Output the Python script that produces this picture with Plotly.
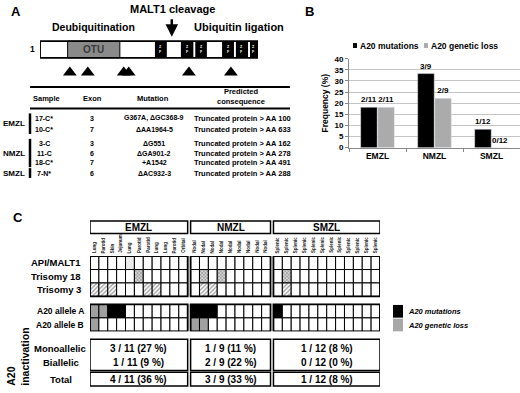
import plotly.graph_objects as go

W, H = 520, 393
def px(x): return x / W
def py(y): return 1 - y / H

FONT = "Liberation Sans"

# ---------------- Panel A data ----------------
prot_len = 790
otu_domain = (101, 290)
zf_domains = [(417, 460), (511, 556), (563, 605), (660, 703), (710, 754), (761, 790)]
mut_sites = [109, 174, 304, 322, 540, 692]
malt1_site = 478

tab_groups = ["EMZL", "EMZL", "NMZL", "NMZL", "NMZL", "SMZL"]
tab_samples = ["17-C*", "10-C*", "3-C", "11-C", "18-C*", "7-N*"]
tab_exons = ["3", "7", "3", "6", "7", "6"]
tab_mutations = ["G367A, \u0394GC368-9", "\u0394AA1964-5", "\u0394G551", "\u0394GA901-2", "+A1542", "\u0394AC932-3"]
tab_conseq = ["Truncated protein > AA 100", "Truncated protein > AA 633", "Truncated protein > AA 162",
              "Truncated protein > AA 278", "Truncated protein > AA 491", "Truncated protein > AA 288"]

# ---------------- Panel B data ----------------
subtypes = ["EMZL", "NMZL", "SMZL"]
mut_pct = [18.2, 33.3, 8.3]
loss_pct = [18.2, 22.2, 0.0]
mut_lbl = ["2/11", "3/9", "1/12"]
loss_lbl = ["2/11", "2/9", "0/12"]

# ---------------- Panel C data ----------------
group_sizes = [11, 9, 12]
sites = (["Lung", "Parotid", "Skin", "Jejunum", "Lung", "Parotid", "Parotid", "Lung", "Lung", "Parotid", "Orbital"]
         + ["Nodal"] * 9 + ["Splenic"] * 12)
row_names = ["API/MALT1", "Trisomy 18", "Trisomy 3", "A20 allele A", "A20 allele B"]
# '-' none, 'f' faint, 'x' trisomy 18, '/' trisomy 3, 'M' mutation, 'L' genetic loss
row_api = list("----f------") + list("---------") + list("------------")
row_t18 = list("-----x-----") + list("-x-x-----") + list("-x----------")
row_t3 = list("///---//---") + list("-//------") + list("-/----------")
row_aA = list("LLMM-------") + list("MMM------") + list("M-----------")
row_aB = list("L----------") + list("LL-------") + list("------------")
mono = [3, 1, 1]
bi = [1, 2, 0]
total = [4, 3, 1]

fig = go.Figure()

# ======== Panel B bar chart ========
fig.add_trace(go.Bar(x=subtypes, y=mut_pct, name="A20 mutations", marker_color="black",
                     text=mut_lbl, textposition="outside", cliponaxis=False,
                     textfont=dict(family=FONT, size=8, color="black", weight="bold"),
                     xaxis="x", yaxis="y", showlegend=False))
fig.add_trace(go.Bar(x=subtypes, y=loss_pct, name="A20 genetic loss", marker_color="#ababab",
                     text=loss_lbl, textposition="outside", cliponaxis=False,
                     textfont=dict(family=FONT, size=8, color="black", weight="bold"),
                     xaxis="x", yaxis="y", showlegend=False))

# ======== Panel C grid (one bar per cell) ========
gap = 0.33
offsets = []
o = 0.0
for s in group_sizes:
    offsets.append(o)
    o += s + gap
x_total = o - gap
col_x = []
for g, s in enumerate(group_sizes):
    for i in range(s):
        col_x.append(offsets[g] + i + 0.5)

row_gap = 0.6
rows = [row_api, row_t18, row_t3, row_aA, row_aB]
row_base = [r + (row_gap if r >= 3 else 0) for r in range(len(rows))]
y_total = len(rows) + row_gap

cx, cb, ccol, cshape, csize, csol = [], [], [], [], [], []
colmap = {"-": "white", "f": "#ececec", "x": "white", "/": "white", "M": "black", "L": "#a0a0a0"}
shapemap = {"-": "", "f": "", "x": "x", "/": "/", "M": "", "L": ""}
for r, row in enumerate(rows):
    for c, v in enumerate(row):
        cx.append(col_x[c])
        cb.append(row_base[r])
        ccol.append(colmap[v])
        cshape.append(shapemap[v])
        csize.append(2.4 if v == "x" else 3.0)
        csol.append(0.7 if v == "x" else 0.45)
fig.add_trace(go.Bar(x=cx, y=[1] * len(cx), base=cb, width=1, offset=-0.5,
                     marker=dict(color=ccol, line=dict(color="black", width=1),
                                 pattern=dict(shape=cshape, fgcolor="#333", fillmode="overlay",
                                              size=csize, solidity=csol)),
                     xaxis="x2", yaxis="y2", showlegend=False, hoverinfo="skip"))

# ======== Panel A triangles ========
fig.add_trace(go.Scatter(x=mut_sites, y=[0.2] * len(mut_sites), mode="markers",
                         marker=dict(symbol="triangle-up", size=12, color="black"),
                         xaxis="x3", yaxis="y3", showlegend=False, hoverinfo="skip"))

shapes = []
ann = []

def text(x, y, t, size=8, xanchor="center", yanchor="middle", italic=False, bold=True, color="black",
         xref="paper", yref="paper", angle=0, align="center"):
    ann.append(dict(x=x, y=y, xref=xref, yref=yref, text=t, showarrow=False, xanchor=xanchor,
                    yanchor=yanchor, textangle=angle, align=align,
                    font=dict(family=FONT, size=size, color=color, weight="bold" if bold else "normal",
                              style="italic" if italic else "normal")))

def rect(x0, y0, x1, y1, fill="rgba(0,0,0,0)", lw=1, lc="black", xref="paper", yref="paper"):
    shapes.append(dict(type="rect", x0=x0, y0=y0, x1=x1, y1=y1, xref=xref, yref=yref,
                       fillcolor=fill, line=dict(color=lc, width=lw), layer="above"))

def line(x0, y0, x1, y1, lw=1, lc="black", xref="paper", yref="paper"):
    shapes.append(dict(type="line", x0=x0, y0=y0, x1=x1, y1=y1, xref=xref, yref=yref,
                       line=dict(color=lc, width=lw), layer="above"))

# ---------- Panel A ----------
text(px(16), py(8), "A", size=13)
text(px(172), py(5), "MALT1 cleavage", size=11)
text(px(93), py(24), "Deubiquitination", size=10.5)
text(px(192), py(24), "Ubiquitin ligation", size=11, xanchor="left")
ann.append(dict(x=malt1_site, y=0.93, xref="x3", yref="y3", ax=malt1_site, ay=1.32, axref="x3", ayref="y3",
                text="", showarrow=True, arrowhead=2, arrowsize=1, arrowwidth=2.5, arrowcolor="black"))
text(px(32), py(46), "1", size=8.5)
text(prot_len + 12, 0.67, "790", size=8.5, xanchor="left", xref="x3", yref="y3")
rect(1, 0.5, prot_len, 0.84, fill="white", lw=1.5, xref="x3", yref="y3")
rect(otu_domain[0], 0.5, otu_domain[1], 0.84, fill="#8a8a8a", lw=1, xref="x3", yref="y3")
text((otu_domain[0] + otu_domain[1]) / 2, 0.67, "OTU", size=10, color="#3a3a3a", xref="x3", yref="y3")
for a, b in zf_domains:
    rect(a, 0.5, b, 0.84, fill="black", lw=0, xref="x3", yref="y3")
    text((a + b) / 2, 0.67, "Z<br>F", size=3.5, color="white", xref="x3", yref="y3")
rect(1, 0.5, prot_len, 0.84, lw=1.5, xref="x3", yref="y3")

# table
line(px(30), py(85), px(290), py(85), lw=2)
line(px(30), py(107), px(290), py(107), lw=2)
text(px(46), py(97), "Sample", size=7.5)
text(px(92), py(97), "Exon", size=7.5)
text(px(153), py(97), "Mutation", size=7.5)
text(px(241), py(95), "Predicted<br>consequence", size=7.5)
row_y = [117, 128, 143, 152.5, 162, 173]
for i in range(len(tab_samples)):
    text(px(44), py(row_y[i]), tab_samples[i], size=7)
    text(px(92), py(row_y[i]), tab_exons[i], size=7)
    text(px(154), py(row_y[i]), tab_mutations[i], size=7)
    text(px(192), py(row_y[i]), tab_conseq[i], size=7.5, xanchor="left")
grp_spans = {}
for i, g in enumerate(tab_groups):
    grp_spans.setdefault(g, []).append(row_y[i])
for g, ys in grp_spans.items():
    y0 = min(ys) - 5
    y1 = max(ys) + 5
    line(px(30), py(y0), px(30), py(y1), lw=2.5)
    text(px(27), py((min(ys) + max(ys)) / 2), g, size=8, xanchor="right")

# ---------- Panel B ----------
text(px(309), py(8), "B", size=13)
rect(px(353), py(40), px(357), py(45), fill="black", lw=0)
text(px(358), py(42.5), "A20 mutations", size=8.5, xanchor="left")
rect(px(424), py(40), px(428), py(45), fill="#ababab", lw=0)
text(px(429), py(42.5), "A20 genetic loss", size=8.5, xanchor="left")

# ---------- Panel C ----------
text(px(18), py(219), "C", size=13)
for g, s in enumerate(group_sizes):
    x0, x1 = offsets[g], offsets[g] + s
    rect(x0, py(222), x1, py(235), lw=1.5, xref="x2", yref="paper")
    text((x0 + x1) / 2, py(228.5), subtypes[g], size=10, xref="x2")
    rect(x0, 0, x1, 3, lw=1.8, xref="x2", yref="y2")
    rect(x0, 3 + row_gap, x1, 5 + row_gap, lw=1.8, xref="x2", yref="y2")
    # summary boxes
    rect(x0, py(343), x1, py(375), lw=1.5, xref="x2", yref="paper")
    rect(x0, py(377), x1, py(391), lw=1.5, xref="x2", yref="paper")
    n = group_sizes[g]
    text((x0 + x1) / 2, py(353), f"{mono[g]} / {n} ({round(100 * mono[g] / n)} %)", size=10, xref="x2")
    text((x0 + x1) / 2, py(367), f"{bi[g]} / {n} ({round(100 * bi[g] / n)} %)", size=10, xref="x2")
    text((x0 + x1) / 2, py(384), f"{total[g]} / {n} ({round(100 * total[g] / n)} %)", size=10, xref="x2")
for c, sname in enumerate(sites):
    text(col_x[c], py(257), sname, size=4.5, xref="x2", yanchor="bottom", angle=-90, color="#222")
for r, nm in enumerate(row_names):
    text(px(83) if r < 3 else px(86), row_base[r] + 0.5, nm, size=9.5 if r < 3 else 8.5,
         xanchor="right", yref="y2")
text(px(60), py(353), "Monoallelic", size=9.5)
text(px(61), py(367), "Biallelic", size=9.5)
text(px(61), py(384), "Total", size=9.5)
text(px(18), py(361), "A20<br>inactivation", size=10.5, angle=-90, align="left")
# legend C
rect(px(393), py(308), px(403), py(321), fill="black", lw=0)
text(px(406), py(315), "A20 mutations", size=7.5, italic=True, xanchor="left")
rect(px(393), py(322), px(403), py(335), fill="#a8a8a8", lw=0)
text(px(406), py(329), "A20 genetic loss", size=7.5, italic=True, xanchor="left")

fig.update_layout(
    width=W, height=H, margin=dict(l=0, r=0, t=0, b=0),
    paper_bgcolor="white", plot_bgcolor="white",
    barmode="group", bargap=0.4, bargroupgap=0.03,
    showlegend=False,
    shapes=shapes, annotations=ann,
    xaxis=dict(domain=[px(349), px(520)], showline=True, linecolor="#888", linewidth=1,
               ticks="outside", tickson="boundaries", ticklen=3, tickcolor="#888",
               tickfont=dict(family=FONT, size=8.5, color="black", weight="bold"), fixedrange=True),
    yaxis=dict(domain=[py(147), py(56)], range=[0, 40], dtick=5, showline=True, linecolor="#888",
               ticks="outside", ticklen=3, tickcolor="#888", gridcolor="#c4c4c4", gridwidth=1,
               tickfont=dict(family=FONT, size=8, color="black", weight="bold"),
               title=dict(text="Frequency (%)", standoff=4,
                          font=dict(family=FONT, size=8.5, color="black", weight="bold")),
               zeroline=False),
    xaxis2=dict(domain=[px(90), px(380)], range=[0, x_total], visible=False, anchor="y2"),
    yaxis2=dict(domain=[py(335), py(258)], range=[y_total, 0], visible=False, anchor="x2"),
    xaxis3=dict(domain=[px(40), px(258)], range=[1, prot_len], visible=False, anchor="y3"),
    yaxis3=dict(domain=[py(80), py(30)], range=[0, 1], visible=False, anchor="x3"),
)

fig.write_html("out.html", config={"displayModeBar": False},
               post_script="document.body.style.margin='0px';")
